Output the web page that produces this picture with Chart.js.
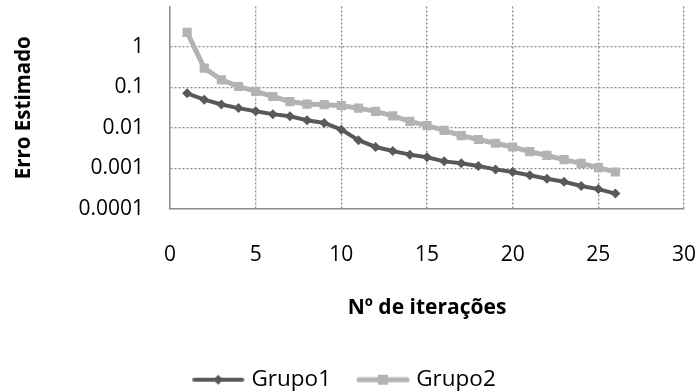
<!DOCTYPE html>
<html lang="pt">
<head>
    <meta charset="UTF-8">
    <title>Erro Estimado</title>
    <script src="https://cdn.jsdelivr.net/npm/chart.js"></script>
    <style>
        body {
            margin: 0;
            background: #fff;
        }
        #wrap {
            width: 700px;
            height: 392px;
        }
    </style>
</head>
<body>
    <div id="wrap"><canvas id="erroChart"></canvas></div>

    <script>
        const iteracoes = [1, 2, 3, 4, 5, 6, 7, 8, 9, 10, 11, 12, 13, 14, 15, 16, 17, 18, 19, 20, 21, 22, 23, 24, 25, 26];

        const grupo1 = [0.072, 0.05, 0.038, 0.031, 0.026, 0.022, 0.0194, 0.0155, 0.0133, 0.0091,
                        0.005, 0.0034, 0.0027, 0.0022, 0.0019, 0.0015, 0.00134, 0.00115, 0.00095, 0.00082,
                        0.00068, 0.00056, 0.00047, 0.00037, 0.00031, 0.00024];

        const grupo2 = [2.3, 0.3, 0.155, 0.106, 0.08, 0.06, 0.045, 0.039, 0.0376, 0.0355,
                        0.031, 0.0257, 0.02, 0.0146, 0.0115, 0.0087, 0.0065, 0.0052, 0.0042, 0.0034,
                        0.0026, 0.0021, 0.00166, 0.00134, 0.00105, 0.00082];

        const yTicks = [0.0001, 0.001, 0.01, 0.1, 1, 10];
        const yTickLabels = ['0.0001', '0.001', '0.01', '0.1', '1', ''];

        const cor1 = '#595959';
        const cor2 = '#b3b3b3';
        const corGrade = '#8c8c8c';

        // legend sample: line with its marker in the middle
        function amostra(cor, largura, estilo) {
            const c = document.createElement('canvas');
            c.width = 54;
            c.height = 14;
            const g = c.getContext('2d');
            g.strokeStyle = cor;
            g.lineWidth = largura;
            g.lineCap = 'round';
            g.beginPath();
            g.moveTo(3, 7);
            g.lineTo(51, 7);
            g.stroke();
            g.fillStyle = cor;
            g.beginPath();
            if (estilo === 'rect') {
                g.rect(22, 2, 10, 10);
            } else {
                g.moveTo(27, 2); g.lineTo(32, 7); g.lineTo(27, 12); g.lineTo(22, 7);
                g.closePath();
            }
            g.fill();
            return c;
        }

        Chart.defaults.font.family = '"Open Sans", sans-serif';
        Chart.defaults.color = '#000';

        const ctx = document.getElementById('erroChart').getContext('2d');
        const erroChart = new Chart(ctx, {
            type: 'line',
            data: {
                datasets: [
                    {
                        label: 'Grupo1',
                        data: iteracoes.map((x, i) => ({ x: x, y: grupo1[i] })),
                        borderColor: cor1,
                        backgroundColor: cor1,
                        borderWidth: 4,
                        pointStyle: 'rectRot',
                        pointRadius: 5,
                        pointBorderWidth: 0,
                        tension: 0,
                        legendImg: amostra(cor1, 4, 'rectRot')
                    },
                    {
                        label: 'Grupo2',
                        data: iteracoes.map((x, i) => ({ x: x, y: grupo2[i] })),
                        borderColor: cor2,
                        backgroundColor: cor2,
                        borderWidth: 5,
                        pointStyle: 'rect',
                        pointRadius: 6.5,
                        pointBorderWidth: 0,
                        tension: 0,
                        legendImg: amostra(cor2, 5, 'rect')
                    }
                ]
            },
            options: {
                responsive: true,
                maintainAspectRatio: false,
                animation: false,
                layout: {
                    padding: { top: 6, right: 16, left: 8, bottom: -9 }
                },
                scales: {
                    x: {
                        type: 'linear',
                        min: 0,
                        max: 30,
                        afterFit: scale => {
                            scale.height = 129.5;
                            scale.paddingLeft = 0;
                            scale.paddingRight = 0;
                        },
                        border: { color: corGrade, width: 1.5, dash: [2, 2] },
                        grid: {
                            drawTicks: false,
                            color: c => c.tick && c.tick.value === 0 ? 'rgba(0,0,0,0)' : corGrade,
                            lineWidth: 1.3
                        },
                        ticks: {
                            stepSize: 5,
                            padding: 33,
                            font: { size: 21 }
                        },
                        title: {
                            display: true,
                            text: 'Nº de iterações',
                            font: { size: 21, weight: 'bold' },
                            padding: { top: 0, bottom: 18 }
                        }
                    },
                    y: {
                        type: 'logarithmic',
                        min: 0.0001,
                        max: 10,
                        afterBuildTicks: scale => {
                            scale.ticks = yTicks.map(v => ({ value: v }));
                        },
                        afterFit: scale => {
                            scale.width = 162;
                            scale.paddingTop = 0;
                            scale.paddingBottom = 0;
                        },
                        border: { color: corGrade, width: 1.5, dash: [2, 2] },
                        grid: {
                            drawTicks: false,
                            color: c => c.tick && (c.tick.value === 10 || c.tick.value === 0.0001) ? 'rgba(0,0,0,0)' : corGrade,
                            lineWidth: 1.3
                        },
                        ticks: {
                            padding: 26,
                            font: { size: 21 },
                            callback: v => yTickLabels[yTicks.indexOf(v)] ?? ''
                        },
                        title: {
                            display: true,
                            text: 'Erro Estimado',
                            font: { size: 20.5, weight: 'bold' },
                            padding: { top: 4, bottom: 0 }
                        }
                    }
                },
                plugins: {
                    legend: {
                        position: 'bottom',
                        labels: {
                            usePointStyle: true,
                            pointStyleWidth: 44,
                            padding: 30,
                            font: { size: 22.5 },
                            generateLabels: chart => chart.data.datasets.map((ds, i) => ({
                                text: ds.label,
                                pointStyle: ds.legendImg,
                                fillStyle: ds.borderColor,
                                strokeStyle: ds.borderColor,
                                lineWidth: 0,
                                datasetIndex: i,
                                hidden: false
                            }))
                        }
                    },
                    tooltip: { enabled: false }
                }
            }
        });
    </script>
</body>
</html>
